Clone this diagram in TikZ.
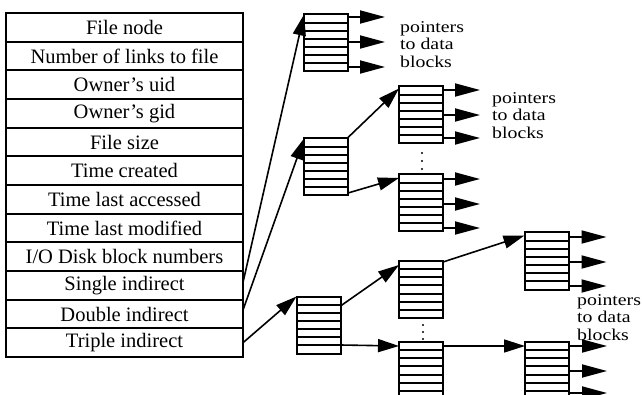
\documentclass[tikz,border=0pt]{standalone}
\usepackage{fontspec}
\setmainfont{Liberation Serif}
\newfontfamily\lblfont[FakeStretch=1.2]{Liberation Serif}
\usetikzlibrary{arrows.meta,calc}
\tikzset{
  blk/.style={draw, line width=2pt, minimum width=44pt, minimum height=57pt,
    inner sep=0pt, outer sep=0pt,
    path picture={\foreach \k in {1,...,6}{\draw[line width=2pt]
      ($(path picture bounding box.north west)!\k/7!(path picture bounding box.south west)$) --
      ($(path picture bounding box.north east)!\k/7!(path picture bounding box.south east)$);}}},
  tabrow/.style={draw, line width=1.8pt, minimum width=237pt, minimum height=28.67pt,
    inner sep=0pt, outer sep=0pt, font=\fontsize{20.5}{21}\selectfont},
  conn/.style={line width=1.6pt, -{Triangle[length=21pt,width=13pt]}},
  dptr/.style={line width=1.8pt, -{Triangle[length=25pt,width=13pt]}},
  lbl/.style={anchor=north west, align=left, inner sep=0pt, font=\lblfont\fontsize{16.5}{17.5}\selectfont},
  dotmark/.style={fill=black}
}
\begin{document}
\begin{tikzpicture}[x=1pt,y=-1pt]
\useasboundingbox (0,0) rectangle (642,395);
\clip (0,0) rectangle (642,395);
% table
\foreach \t [count=\i] in {File node, Number of links to file, Owner's uid, Owner's gid,
  File size, Time created, Time last accessed, Time last modified,
  I/O Disk block numbers, Single indirect, Double indirect, Triple indirect}
  \node[tabrow] (r\i) at (124.5, {13+28.67*(\i-0.5)}) {\t};
% blocks
\node[blk] (A) at (326,43) {};
\node[blk] (B) at (326,167) {};
\node[blk] (C) at (421,115) {};
\node[blk] (D) at (421,203) {};
\node[blk] (E) at (318.5,325) {};
\node[blk] (F) at (421,289.5) {};
\node[blk] (G) at (421,370.5) {};
\node[blk] (H) at (546.5,261) {};
\node[blk] (I) at (547,370.5) {};
% connectors from table
\draw[conn] ([yshift=3pt]r10.east) -- (A.north west);
\draw[conn] ([yshift=4pt]r11.east) -- (B.north west);
\draw[conn] (r12.east) -- (E.north west);
% double indirect
\draw[conn] ([yshift=1pt]B.north east) -- ([yshift=-2pt]C.north west);
\draw[conn] ([yshift=2.5pt]B.south east) -- ([yshift=-3.5pt]D.north west);
% triple indirect
\draw[conn] ([yshift=-9.5pt]E.north east) -- ([yshift=-4pt]F.north west);
\draw[conn] ([yshift=8.5pt]E.south east) -- ([yshift=-4pt]G.north west);
\draw[conn] ([yshift=-1pt]F.north east) -- ([yshift=-3pt]H.north west);
\draw[conn] ([yshift=-4pt]G.north east) -- ([yshift=-4pt]I.north west);
% data pointers
\foreach \y in {17,42,67} \draw[dptr] (A.east |- 0,\y) -- +(37,0);
\foreach \y in {90,115,138} \draw[dptr] (C.east |- 0,\y) -- +(37,0);
\foreach \y in {179,204,228} \draw[dptr] (D.east |- 0,\y) -- +(37,0);
\foreach \y in {237,262,286} \draw[dptr] (H.east |- 0,\y) -- +(38,0);
\foreach \y in {346,371,393} \draw[dptr] (I.east |- 0,\y) -- +(38,0);
% labels
\node[lbl] (L1) at (400,21) {pointers\\to data\\blocks};
\node[lbl] (L2) at (492,92) {pointers\\to data\\blocks};
\node[lbl] (L3) at (577,294) {pointers\\to data\\blocks};
% dots
\foreach \y in {153,161,169} \fill[dotmark] (422,\y) circle (1.2);
\foreach \y in {325,332,339} \fill[dotmark] (423,\y) circle (1.2);
\end{tikzpicture}
\end{document}
